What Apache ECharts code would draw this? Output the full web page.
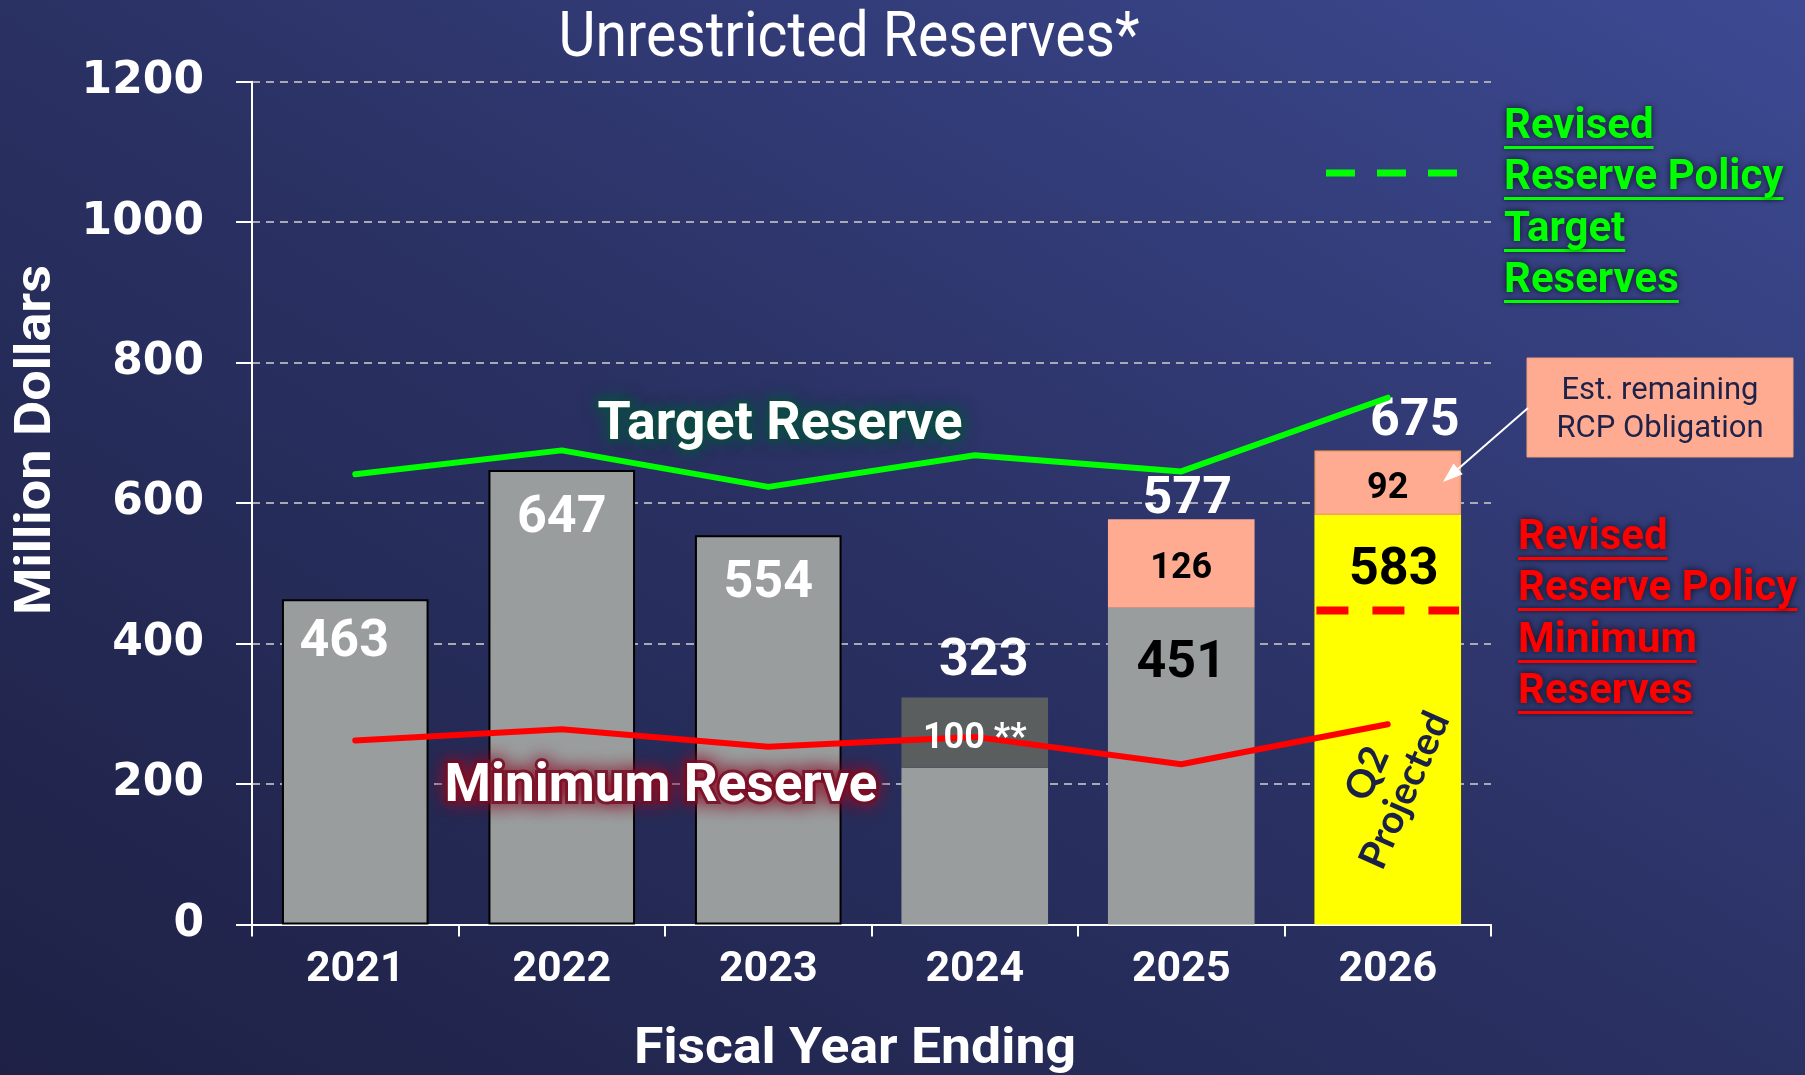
<!DOCTYPE html>
<html>
<head>
<meta charset="utf-8">
<script src="https://cdn.jsdelivr.net/npm/echarts@6/dist/echarts.min.js"></script>
<style>
  html, body { margin: 0; padding: 0; }
  #chart { width: 1805px; height: 1075px;
    background: linear-gradient(to top right, #1e2145 0%, #2a3163 50%, #3d4a93 100%); }
</style>
</head>
<body>
<div id="chart"></div>
<script>
// ---- data ----
const years = ['2021', '2022', '2023', '2024', '2025', '2026'];
const baseValues = [463, 647, 554, 223, 451, 583];
const extraValues = [null, null, null, 100, 126, 92];
const extraLabels = ['', '', '', '100 **', '126', '92'];
const totals = [463, 647, 554, 323, 577, 675];
const targetReserve = [641, 675, 623, 668, 645, 750];
const minimumReserve = [262, 278, 253, 267, 228, 285];
const revisedMinimum = [[5, 447]];
const yMin = 0, yMax = 1200, yStep = 200;

// ---- styles ----
const GRAY = '#9a9d9e', DARKGRAY = '#5b5e5f', SALMON = '#ffab91', YELLOW = '#ffff00';
const baseColors = [GRAY, GRAY, GRAY, GRAY, GRAY, YELLOW];
const baseBorder = [2, 2, 2, 0, 0, 0];
const baseLabelColor = ['#fff', '#fff', '#fff', null, '#000', '#000'];
const baseLabelDist = [18, 23, 23, 0, 30, 30];
const baseLabelOffsetX = [-11, 0, 0, 0, 0, 6];
const extraColors = [null, null, null, DARKGRAY, SALMON, SALMON];
const extraLabelColor = [null, null, null, '#fff', '#000', '#000'];
const totalLabelDist = [0, 0, 0, 10, -7, 2];
const totalLabelOffsetX = [0, 0, 0, 9, 6, 27];

const ctx = document.createElement('canvas').getContext('2d');
function tw(str, font) { ctx.font = font; return ctx.measureText(str).width; }

function fitText(text, x, y, font, width, extra) {
  const s = width / tw(text, font);
  return {
    type: 'text', x: x, y: y, scaleX: s, z: 100,
    style: Object.assign({ text: text, font: font, fill: '#fff', align: 'center', verticalAlign: 'middle' }, extra || {})
  };
}

const graphics = [];
// title
graphics.push(fitText('Unrestricted Reserves*', 849, 40, '400 63px Roboto', 581));
// axis names
const yName = fitText('Million Dollars', 37, 440, 'bold 50px Roboto', 350);
yName.rotation = Math.PI / 2;
graphics.push(yName);
graphics.push(fitText('Fiscal Year Ending', 855, 1050, 'bold 50px Roboto', 442));
// annotations
graphics.push(fitText('Target Reserve', 780, 425, 'bold 54px Roboto', 365, {
  textShadowColor: 'rgba(12,78,70,1)', textShadowBlur: 16,
  stroke: 'rgba(18,70,66,0.9)', lineWidth: 5
}));
graphics.push(fitText('Minimum Reserve', 661, 787, 'bold 54px Roboto', 433, {
  textShadowColor: 'rgba(140,15,40,1)', textShadowBlur: 18,
  stroke: 'rgba(110,12,35,0.8)', lineWidth: 6
}));

// legends (underlined)
function legendBlock(lines, left, baselines, color) {
  const font = 'bold 42px Roboto';
  lines.forEach((t, i) => {
    graphics.push({
      type: 'text', x: left, y: baselines[i] - 15, z: 100,
      style: { text: t, font: font, fill: color, align: 'left', verticalAlign: 'middle',
        textShadowColor: 'rgba(0,0,0,0.75)', textShadowBlur: 7 }
    });
    graphics.push({
      type: 'rect', z: 99,
      shape: { x: left, y: baselines[i] + 4, width: tw(t, font), height: 3 },
      style: { fill: color, shadowColor: 'rgba(0,0,0,0.7)', shadowBlur: 4 }
    });
  });
}
legendBlock(['Revised', 'Reserve Policy', 'Target', 'Reserves'], 1504, [142, 193, 245, 296], '#00ff00');
legendBlock(['Revised', 'Reserve Policy', 'Minimum', 'Reserves'], 1518, [553, 604, 656, 707], '#ff0000');
// green dashed legend key
graphics.push({
  type: 'line', z: 100,
  shape: { x1: 1326, y1: 173, x2: 1458, y2: 173 },
  style: { stroke: '#00ff00', lineWidth: 7, lineDash: [29, 22] }
});
// callout box
graphics.push({
  type: 'rect', z: 100,
  shape: { x: 1527, y: 358, width: 266, height: 99 },
  style: { fill: SALMON, stroke: '#f0a080', lineWidth: 1 }
});
graphics.push({
  type: 'text', x: 1660, y: 410, z: 101,
  style: { text: 'Est. remaining\nRCP Obligation', font: '400 31px Roboto', fill: '#1e2248',
    align: 'center', verticalAlign: 'middle', lineHeight: 38 }
});
// arrow
graphics.push({
  type: 'line', z: 101,
  shape: { x1: 1528, y1: 408, x2: 1458, y2: 469 },
  style: { stroke: '#ffffff', lineWidth: 2 }
});
graphics.push({
  type: 'polygon', z: 101,
  shape: { points: [[1443, 482], [1462.7, 474.2], [1453.5, 463.6]] },
  style: { fill: '#ffffff' }
});
// Q2 projected
graphics.push({
  type: 'text', x: 1386, y: 782, rotation: 66 * Math.PI / 180, z: 100,
  style: { text: 'Q2\nProjected', font: 'bold 39px Lato', fill: '#1b2046',
    align: 'center', verticalAlign: 'middle', lineHeight: 41 }
});

const option = {
  backgroundColor: 'transparent',
  animation: false,
  grid: { left: 252, right: 314, top: 81.7, bottom: 150.6, containLabel: false },
  xAxis: {
    type: 'category', data: years, boundaryGap: true,
    axisLine: { lineStyle: { color: '#ffffff', width: 2 } },
    axisTick: { show: true, length: 12, lineStyle: { color: '#ffffff', width: 2 } },
    axisLabel: { color: '#ffffff', fontFamily: 'Roboto', fontWeight: 'bold', fontSize: 43, margin: 24 }
  },
  yAxis: {
    type: 'value', min: yMin, max: yMax, interval: yStep,
    axisLine: { show: true, lineStyle: { color: '#ffffff', width: 2 } },
    axisTick: { show: true, length: 16, lineStyle: { color: '#ffffff', width: 2 } },
    axisLabel: { color: '#ffffff', fontFamily: 'DejaVu Sans', fontWeight: 'bold', fontSize: 44, margin: 48,
      formatter: v => String(v) },
    splitLine: { show: true, lineStyle: { color: '#a9a9b4', width: 2, type: [8, 6] } }
  },
  series: [
    {
      type: 'bar', stack: 'r', barWidth: '71%',
      data: baseValues.map((v, i) => ({
        value: v,
        itemStyle: { color: baseColors[i], borderColor: '#000', borderWidth: baseBorder[i] },
        label: {
          show: baseLabelColor[i] !== null, position: 'insideTop',
          distance: baseLabelDist[i], offset: [baseLabelOffsetX[i], 0],
          color: baseLabelColor[i] || '#fff', fontFamily: 'Roboto', fontWeight: 'bold', fontSize: 52
        }
      })),
      z: 2
    },
    {
      type: 'bar', stack: 'r', barWidth: '71%',
      data: extraValues.map((v, i) => ({
        value: v,
        itemStyle: { color: extraColors[i] || GRAY, borderColor: i === 5 ? '#f5a060' : 'transparent', borderWidth: i === 5 ? 1.5 : 0 }
      })),
      z: 2
    },
    {
      // labels of the upper segments, drawn above the reserve lines
      type: 'scatter', symbolSize: 0, silent: true, z: 9,
      itemStyle: { opacity: 1 },
      emphasis: { disabled: true },
      data: extraValues.map((v, i) => v !== null ? ({
        value: [i, baseValues[i] + v / 2],
        label: { show: true, position: 'inside', offset: [0, 6], formatter: extraLabels[i],
          color: extraLabelColor[i], fontFamily: 'Roboto', fontWeight: 'bold', fontSize: 36 }
      }) : null).filter(d => d !== null)
    },
    {
      type: 'scatter', symbolSize: 0, silent: true,
      itemStyle: { opacity: 1 },
      emphasis: { disabled: true },
      data: totals.map((v, i) => i >= 3 ? ({
        value: [i, v],
        label: { show: true, position: 'top', distance: totalLabelDist[i], offset: [totalLabelOffsetX[i], 0],
          formatter: String(v),
          color: '#ffffff', fontFamily: 'Roboto', fontWeight: 'bold', fontSize: 52 }
      }) : null).filter(d => d !== null),
      z: 5
    },
    {
      type: 'line', data: targetReserve, symbol: 'none', z: 6,
      lineStyle: { color: '#00ff00', width: 6, cap: 'round', join: 'round' }
    },
    {
      type: 'line', data: minimumReserve, symbol: 'none', z: 6,
      lineStyle: { color: '#ff0000', width: 6, cap: 'round', join: 'round' }
    },
    {
      type: 'custom', z: 7, silent: true,
      data: revisedMinimum,
      renderItem: function (params, api) {
        const p = api.coord([api.value(0), api.value(1)]);
        const w = api.size([1, 0])[0] * 0.71;
        return {
          type: 'line',
          shape: { x1: p[0] - w / 2 + 2, y1: p[1], x2: p[0] + w / 2 - 2, y2: p[1] },
          style: { stroke: '#ff0000', lineWidth: 8, lineDash: [32, 24] }
        };
      }
    }
  ],
  graphic: graphics
};

const chart = echarts.init(document.getElementById('chart'), null, { renderer: 'canvas' });
chart.setOption(option);
</script>
</body>
</html>
